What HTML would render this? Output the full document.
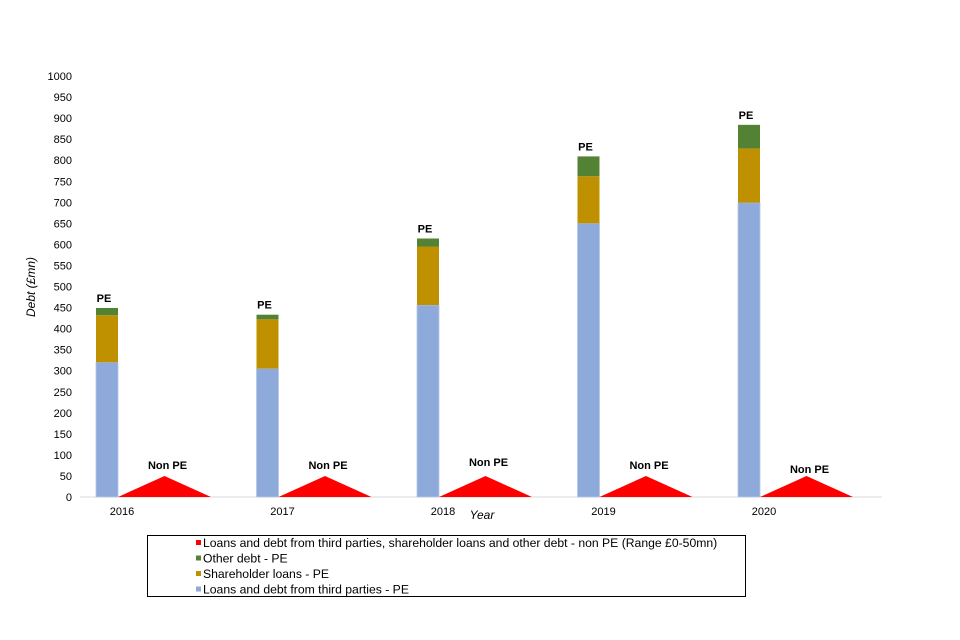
<!DOCTYPE html>
<html><head><meta charset="utf-8"><style>
html,body{margin:0;padding:0;background:#fff;}
svg{display:block;font-family:"Liberation Sans",Arial,sans-serif;}
</style></head><body>
<svg id="chart" width="960" height="640"></svg>
<script>
const years = ["2016","2017","2018","2019","2020"];
const thirdParty = [320, 305, 456, 650, 699];
const shareholder = [112, 117, 139, 112, 129];
const otherDebt = [17, 11, 19, 47, 56];
const nonPE = [50, 50, 50, 50, 50];
const yTicks = [0,50,100,150,200,250,300,350,400,450,500,550,600,650,700,750,800,850,900,950,1000];
const nonPELabelDy = [0, 0, -3, 0, 4];

const NS = "http://www.w3.org/2000/svg";
const svg = document.getElementById("chart");
const y0 = 497, y1 = 76;
const yScale = v => y0 - (v / 1000) * (y0 - y1);
const barX = i => 96 + i * 160.5;
const barW = 22;
const triW = 93;
function el(tag, attrs, parent) {
  const e = document.createElementNS(NS, tag);
  for (const k in attrs) e.setAttribute(k, attrs[k]);
  (parent || svg).appendChild(e);
  return e;
}
yTicks.forEach(t => {
  const tx = el("text", {x: 72, y: yScale(t) + 4, "text-anchor": "end", "font-size": 11, fill: "#000"});
  tx.textContent = t;
  
  
});
const yt = el("text", {x: 0, y: 0, "font-size": 12, "font-style": "italic", "text-anchor": "middle", transform: "translate(35,287) rotate(-90)"});
yt.textContent = "Debt (£mn)";


const ax = el("line", {x1: 80, y1: y0, x2: 882, y2: y0, stroke: "#d9d9d9", "stroke-width": 1});



years.forEach((yr, i) => {
  const x = barX(i);
  const g = el("g", {});
  
  
  const a = thirdParty[i], b = shareholder[i], c = otherDebt[i];
  const r1 = el("rect", {x: x, y: yScale(a), width: barW, height: yScale(0) - yScale(a), fill: "#8eaadb", stroke: "#b4c7e7", "stroke-width": 0.8}, g);
  
  
  const r2 = el("rect", {x: x, y: yScale(a + b), width: barW, height: yScale(a) - yScale(a + b), fill: "#bf9000"}, g);
  
  
  const r3 = el("rect", {x: x, y: yScale(a + b + c), width: barW, height: yScale(a + b) - yScale(a + b + c), fill: "#548235"}, g);
  
  
  const pe = el("text", {x: x + barW / 2 - 3, y: yScale(a + b + c) - 6, "text-anchor": "middle", "font-size": 11, "font-weight": "bold"}, g);
  pe.textContent = "PE";
  
  
  const tx0 = x + barW;
  const tri = el("polygon", {points: `${tx0},${yScale(0)} ${tx0 + triW / 2},${yScale(nonPE[i])} ${tx0 + triW},${yScale(0)}`, fill: "#ff0000"}, g);
  
  
  const np = el("text", {x: tx0 + triW / 2 + 3, y: yScale(nonPE[i]) - 7 + nonPELabelDy[i], "text-anchor": "middle", "font-size": 11, "font-weight": "bold"}, g);
  np.textContent = "Non PE";
  
  
  const yl = el("text", {x: x + 26, y: 515, "text-anchor": "middle", "font-size": 11}, g);
  yl.textContent = yr;
  
  
});
const xt = el("text", {x: 482, y: 519, "text-anchor": "middle", "font-size": 12, "font-style": "italic"});
xt.textContent = "Year";



const lg = el("g", {});


const lb = el("rect", {x: 147.5, y: 535.5, width: 598, height: 61, fill: "#fff", stroke: "#000", "stroke-width": 1}, lg);


const legendItems = [
  ["Loans and debt from third parties, shareholder loans and other debt - non PE (Range £0-50mn)", "#ff0000"],
  ["Other debt - PE", "#548235"],
  ["Shareholder loans - PE", "#bf9000"],
  ["Loans and debt from third parties - PE", "#8eaadb"]
];
legendItems.forEach((it, k) => {
  const yy = 543 + k * 15.5;
  const sw = el("rect", {x: 196, y: yy - 3, width: 5, height: 5, fill: it[1]}, lg);
  
  
  const t = el("text", {x: 203, y: yy + 4, "font-size": 12.2}, lg);
  t.textContent = it[0];
  
  
});
</script>
</body></html>
